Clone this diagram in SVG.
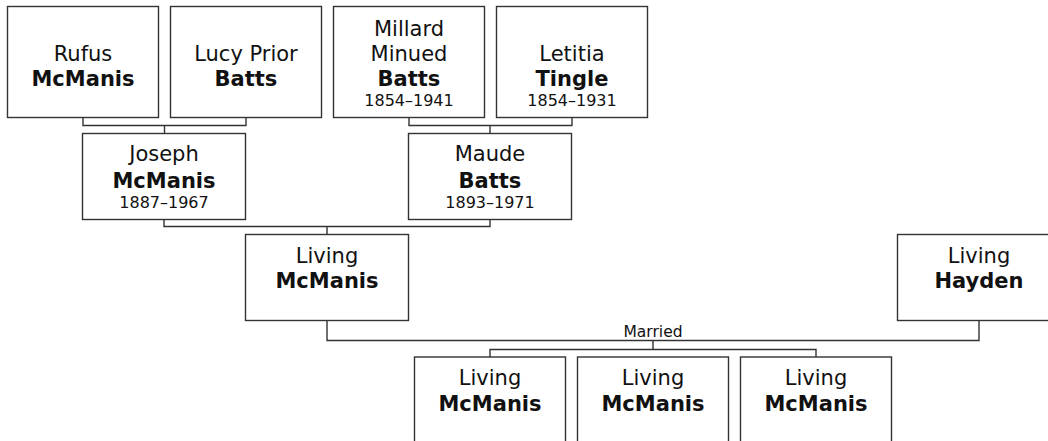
<svg xmlns="http://www.w3.org/2000/svg" width="1048" height="441" viewBox="0 0 1048 441">
<style>
.box{fill:#fff;stroke:#333;stroke-width:1.4}
.ln{fill:none;stroke:#333;stroke-width:1.4}
text{font-family:"DejaVu Sans",Verdana,sans-serif;text-anchor:middle;fill:#111}
.n{font-size:21px}
.s{font-size:21px;font-weight:bold}
.d{font-size:16px}
.m{font-size:15.5px}
</style>
<rect width="1048" height="441" fill="#fff"/>
<g id="connectors">
<path class="ln" d="M83,117.5V125.5H246V117.5M164.5,125.5V133.5"/>
<path class="ln" d="M409,117.5V125.5H572V117.5M490,125.5V133.5"/>
<path class="ln" d="M164,219.5V226.5H490V219.5M327,226.5V234.5"/>
<path class="ln" d="M327,320.5V340.5H979V320.5M653,340.5V349.5"/>
<path class="ln" d="M490,357V349.5H816V357"/>
<text class="m" x="653" y="336.5">Married</text>
</g>
<g id="rufus">
<rect class="box" x="7.5" y="6.5" width="151" height="111"/>
<text class="n" x="83" y="61">Rufus</text>
<text class="s" x="83" y="86">McManis</text>
</g>
<g id="lucy">
<rect class="box" x="170.5" y="6.5" width="151" height="111"/>
<text class="n" x="246" y="61">Lucy Prior</text>
<text class="s" x="246" y="86">Batts</text>
</g>
<g id="millard">
<rect class="box" x="333.5" y="6.5" width="151" height="111"/>
<text class="n" x="409" y="36">Millard</text>
<text class="n" x="409" y="61">Minued</text>
<text class="s" x="409" y="86">Batts</text>
<text class="d" x="409" y="106">1854–1941</text>
</g>
<g id="letitia">
<rect class="box" x="496.5" y="6.5" width="151" height="111"/>
<text class="n" x="572" y="61">Letitia</text>
<text class="s" x="572" y="86">Tingle</text>
<text class="d" x="572" y="106">1854–1931</text>
</g>
<g id="joseph">
<rect class="box" x="82.5" y="133.5" width="163" height="86"/>
<text class="n" x="164" y="161">Joseph</text>
<text class="s" x="164" y="188">McManis</text>
<text class="d" x="164" y="208">1887–1967</text>
</g>
<g id="maude">
<rect class="box" x="408.5" y="133.5" width="163" height="86"/>
<text class="n" x="490" y="161">Maude</text>
<text class="s" x="490" y="188">Batts</text>
<text class="d" x="490" y="208">1893–1971</text>
</g>
<g id="living-mcmanis">
<rect class="box" x="245.5" y="234.5" width="163" height="86"/>
<text class="n" x="327" y="263">Living</text>
<text class="s" x="327" y="288">McManis</text>
</g>
<g id="living-hayden">
<rect class="box" x="897.5" y="234.5" width="163" height="86"/>
<text class="n" x="979" y="263">Living</text>
<text class="s" x="979" y="288">Hayden</text>
</g>
<g id="child1">
<rect class="box" x="414.5" y="357" width="151" height="111"/>
<text class="n" x="490" y="385">Living</text>
<text class="s" x="490" y="410.5">McManis</text>
</g>
<g id="child2">
<rect class="box" x="577.5" y="357" width="151" height="111"/>
<text class="n" x="653" y="385">Living</text>
<text class="s" x="653" y="410.5">McManis</text>
</g>
<g id="child3">
<rect class="box" x="740.5" y="357" width="151" height="111"/>
<text class="n" x="816" y="385">Living</text>
<text class="s" x="816" y="410.5">McManis</text>
</g>
</svg>
